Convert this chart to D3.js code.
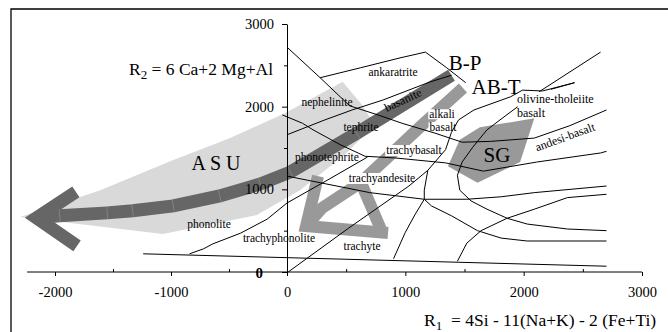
<!DOCTYPE html>
<html>
<head>
<meta charset="utf-8">
<script src="https://cdn.jsdelivr.net/npm/d3@7"></script>
<style>
  html, body { margin: 0; padding: 0; background: #fff; }
  svg { display: block; }
  svg text { font-family: "Liberation Serif", "Times New Roman", serif; }
</style>
</head>
<body>
<svg id="chart" width="668" height="332"></svg>
<script>
// R1-R2 classification diagram (De la Roche):
// R1 = 4Si - 11(Na+K) - 2(Fe+Ti),  R2 = 6Ca + 2Mg + Al

const SERIF = "'Liberation Serif', 'Times New Roman', serif";

// ---- axis ticks ----
const xTicks = [-2000, -1000, 0, 1000, 2000, 3000];
const xMinorTicks = [-1500, -500, 500, 1500, 2500];
const yTicks = [0, 1000, 2000, 3000];
const yMinorTicks = [500, 1500, 2500];
const xAxisExtent = [-2240, 3000];

// ---- field boundaries, points are [R1, R2] ----
const boundaryA = [[0,2720],[280,2350],[530,2010],[790,1890],[970,1800],[1250,1680],[1480,1570],[1720,1580],[2090,1620],[2390,1770],[2700,1960]];
const boundaryB = [[280,2350],[620,2470],[955,2590],[1170,2660],[1350,2470],[1510,2290]];
const boundaryC = [[0,1660],[320,1840],[550,1960],[810,2080],[1210,2300],[1390,2380]];
const boundaryD = [[-40,1900],[130,1800],[220,1720],[450,1540],[660,1400],[910,1380],[1340,1320],[1660,1220],[2110,1330],[2650,1440],[2700,1460]];
const boundaryE = [[10,0],[520,530],[1030,1040],[1190,1230],[1340,1480],[1390,1690],[1450,1840],[1580,1960],[1890,2120],[1990,2200]];
const boundaryF = [[1950,2000],[1800,1840],[1690,1720],[1570,1510],[1480,1330],[1440,1170],[1460,990],[1555,860],[1690,760],[1860,650],[2030,580],[2370,520],[2700,500]];
const boundaryG = [[1190,1230],[1160,990],[1160,880],[1080,690],[1000,480],[900,160]];
const boundaryG2 = [[1160,880],[1220,800],[1390,680],[1610,500],[1810,410],[2030,375],[2700,375]];
const boundaryH = [[1440,130],[1520,350],[1640,500],[1860,650],[2090,760],[2370,900],[2700,940]];
const boundaryT = [[0,1160],[280,1080],[700,960],[1160,880],[1520,880],[1810,910],[2090,960],[2700,1040]];
const boundaryP = [[-840,220],[-720,280],[-640,340],[-400,470],[-170,640],[0,835],[340,1110],[680,1390]];
const boundaryM = [[-1240,220],[2700,70]];
const boundaryZig = [[1990,2200],[2160,2190],[2430,2290],[2230,2210]];
const boundaryLong = [[2130,2180],[2650,2660]];

// ---- shaded fields and trends ----
const asuField = [[-2300,665],[-1610,990],[-980,1355],[-490,1620],[-20,1920],[470,2300],[630,2030],[740,1780],[490,1420],[110,990],[-260,690],[-1070,460]];
const sgField = [[1360,1280],[1460,1600],[1630,1750],[2090,1860],[1970,1330],[1610,1080]];
const bpTrend = [[1390,2380],[590,1680],[30,1210],[-230,1065],[-580,920],[-980,800],[-1330,740],[-1550,715],[-1960,680],[-2160,655]];
const bpHead = [[-1820,970],[-2160,655],[-1810,315]];
const abtTrend = [[1487,2226],[1124,1754],[828,1355],[617,1077],[296,774],[161,556]];
const abtHead = [[262,1161],[161,556],[854,472]];
const abtInner = [[634,1052],[803,484]];

// ---- labels, anchored at [R1, R2] ----
const fieldLabels = [
  { text: "ankaratrite", r1: 896, r2: 2371 },
  { text: "nephelinite", r1: 338, r2: 2008 },
  { text: "tephrite", r1: 625, r2: 1706 },
  { text: "alkali", r1: 1310, r2: 1860, boxed: true },
  { text: "basalt", r1: 1318, r2: 1706, boxed: true },
  { text: "phonotephrite", r1: 338, r2: 1343 },
  { text: "trachybasalt", r1: 1073, r2: 1427, boxed: true },
  { text: "trachyandesite", r1: 803, r2: 1089, boxed: true },
  { text: "phonolite", r1: -672, r2: 532 },
  { text: "trachyphonolite", r1: -69, r2: 363 },
  { text: "trachyte", r1: 634, r2: 266 }
];
const leftLabels = [
  { text: "olivine-tholeiite", r1: 1944, r2: 2044 },
  { text: "basalt", r1: 1944, r2: 1875 }
];
const slantedLabels = [
  { text: "basanite", r1: 980, r2: 2081, angle: -25 },
  { text: "andesi-basalt", r1: 2349, r2: 1633, angle: -20 }
];
const groupLabels = [
  { text: "B-P", r1: 1504, r2: 2444, size: 21 },
  { text: "AB-T", r1: 1766, r2: 2153, size: 21 },
  { text: "SG", r1: 1775, r2: 1331, size: 21 },
  { text: "A S U", r1: -612, r2: 1234, size: 20 }
];

// ---- scales ----
const x = d3.scaleLinear().domain([-2000, 0, 3000]).range([55, 287, 642]);
const y = d3.scaleLinear().domain([0, 3000]).range([272, 24]);
const line = d3.line().x(d => x(d[0])).y(d => y(d[1]));

const svg = d3.select("#chart");

// outer frame
svg.append("path")
  .attr("d", "M11,332V9H668")
  .attr("fill", "none").attr("stroke", "#000").attr("stroke-width", 1.3);

const gShade = svg.append("g");
const gBg = svg.append("g");
const gLines = svg.append("g");
const gAxes = svg.append("g");
const gText = svg.append("g").attr("font-family", SERIF).attr("fill", "#000");

// shaded fields
gShade.append("path").datum(asuField)
  .attr("d", d => line(d) + "Z").attr("fill", "#d9d9d9");
gShade.append("path").datum(sgField)
  .attr("d", d => line(d) + "Z").attr("fill", "#999999");

// trend arrows
function band(data, color, width) {
  gShade.append("path").datum(data)
    .attr("d", line)
    .attr("fill", "none").attr("stroke", color)
    .attr("stroke-width", width)
    .attr("stroke-linejoin", "miter").attr("stroke-miterlimit", 10)
    .attr("stroke-linecap", "butt");
}
band(bpTrend, "#666666", 13);
band(bpHead, "#666666", 13);
band(abtTrend, "#999999", 12);
band(abtHead, "#999999", 12);
band(abtInner, "#999999", 12);

// faint joints across the B-P trend band
const seams = [];
for (let i = 1; i < bpTrend.length - 1; i++) {
  const a = [x(bpTrend[i-1][0]), y(bpTrend[i-1][1])];
  const p = [x(bpTrend[i][0]), y(bpTrend[i][1])];
  const b = [x(bpTrend[i+1][0]), y(bpTrend[i+1][1])];
  const n1 = Math.hypot(p[0]-a[0], p[1]-a[1]), n2 = Math.hypot(b[0]-p[0], b[1]-p[1]);
  let tx = (p[0]-a[0])/n1 + (b[0]-p[0])/n2, ty = (p[1]-a[1])/n1 + (b[1]-p[1])/n2;
  const tn = Math.hypot(tx, ty); tx /= tn; ty /= tn;
  seams.push([p[0] - ty*6.5, p[1] + tx*6.5, p[0] + ty*6.5, p[1] - tx*6.5]);
}
gShade.selectAll("line.seam").data(seams).join("line")
  .attr("class", "seam")
  .attr("x1", d => d[0]).attr("y1", d => d[1])
  .attr("x2", d => d[2]).attr("y2", d => d[3])
  .attr("stroke", "#8e8e8e").attr("stroke-width", 0.7);

// field boundaries
const boundaries = [boundaryA, boundaryB, boundaryC, boundaryD, boundaryE, boundaryF,
  boundaryG, boundaryG2, boundaryH, boundaryT, boundaryP, boundaryM, boundaryZig, boundaryLong];
gLines.selectAll("path").data(boundaries).join("path")
  .attr("d", line)
  .attr("fill", "none").attr("stroke", "#000").attr("stroke-width", 1)
  .attr("stroke-linejoin", "round");

// axes
const tickFont = g => g.attr("font-family", SERIF).selectAll("text")
  .attr("font-family", SERIF)
  .attr("font-size", "14.5px").attr("fill", "#000");

const gx = gAxes.append("g").attr("transform", `translate(0,${y(0)})`);
gx.append("line")
  .attr("x1", x(xAxisExtent[0])).attr("x2", x(xAxisExtent[1]))
  .attr("stroke", "#000").attr("stroke-width", 1);
gx.append("g")
  .call(d3.axisBottom(x).tickValues(xTicks).tickSize(4).tickPadding(11).tickFormat(d => String(d)))
  .call(g => g.select(".domain").remove())
  .call(tickFont);
gx.append("g")
  .call(d3.axisBottom(x).tickValues(xMinorTicks).tickSize(-3).tickFormat(""))
  .call(g => g.select(".domain").remove());

const gy = gAxes.append("g").attr("transform", `translate(${x(0)},0)`);
gy.append("g")
  .call(d3.axisLeft(y).tickValues(yTicks).tickSize(5).tickSizeOuter(0).tickPadding(8)
    .tickFormat(d => d === 0 ? "" : String(d)))
  .call(tickFont);
gy.append("g")
  .call(d3.axisLeft(y).tickValues(yMinorTicks).tickSize(3).tickFormat(""))
  .call(g => g.select(".domain").remove());

// bold origin marker on the R1 axis
gText.append("text")
  .attr("x", x(-240)).attr("y", y(0) + 6)
  .attr("text-anchor", "middle")
  .attr("font-size", "15px").attr("font-weight", "bold")
  .text("0");

// field names
const fl = gText.selectAll("text.field").data(fieldLabels).join("text")
  .attr("class", "field")
  .attr("x", d => x(d.r1)).attr("y", d => y(d.r2))
  .attr("text-anchor", "middle")
  .attr("font-size", "11.5px")
  .text(d => d.text);
fl.filter(d => d.boxed).each(function () {
  const b = this.getBBox();
  gBg.append("rect")
    .attr("x", b.x - 1).attr("y", b.y + 1)
    .attr("width", b.width + 2).attr("height", b.height - 2)
    .attr("fill", "#fff");
});

gText.selectAll("text.left").data(leftLabels).join("text")
  .attr("class", "left")
  .attr("x", d => x(d.r1)).attr("y", d => y(d.r2))
  .attr("font-size", "12px")
  .text(d => d.text);

gText.selectAll("text.slant").data(slantedLabels).join("text")
  .attr("class", "slant")
  .attr("transform", d => `translate(${x(d.r1)},${y(d.r2)}) rotate(${d.angle})`)
  .attr("text-anchor", "middle")
  .attr("dominant-baseline", "central")
  .attr("font-size", "12px")
  .text(d => d.text);

gText.selectAll("text.group").data(groupLabels).join("text")
  .attr("class", "group")
  .attr("x", d => x(d.r1)).attr("y", d => y(d.r2))
  .attr("text-anchor", "middle")
  .attr("font-size", d => d.size + "px")
  .text(d => d.text);

// axis formulas
const r2Title = gText.append("text")
  .attr("x", 129).attr("y", 75)
  .attr("font-size", "17.5px");
r2Title.append("tspan").text("R");
r2Title.append("tspan").attr("dy", 4).attr("font-size", "13px").text("2");
r2Title.append("tspan").attr("dy", -4).text(" = 6 Ca+2 Mg+Al");

const r1Title = gText.append("text")
  .attr("x", 424).attr("y", 326)
  .attr("font-size", "17.5px")
  .attr("xml:space", "preserve");
r1Title.append("tspan").text("R");
r1Title.append("tspan").attr("dy", 4).attr("font-size", "13px").text("1");
r1Title.append("tspan").attr("dy", -4).text("  = 4Si - 11(Na+K) - 2 (Fe+Ti)");
</script>
</body>
</html>
